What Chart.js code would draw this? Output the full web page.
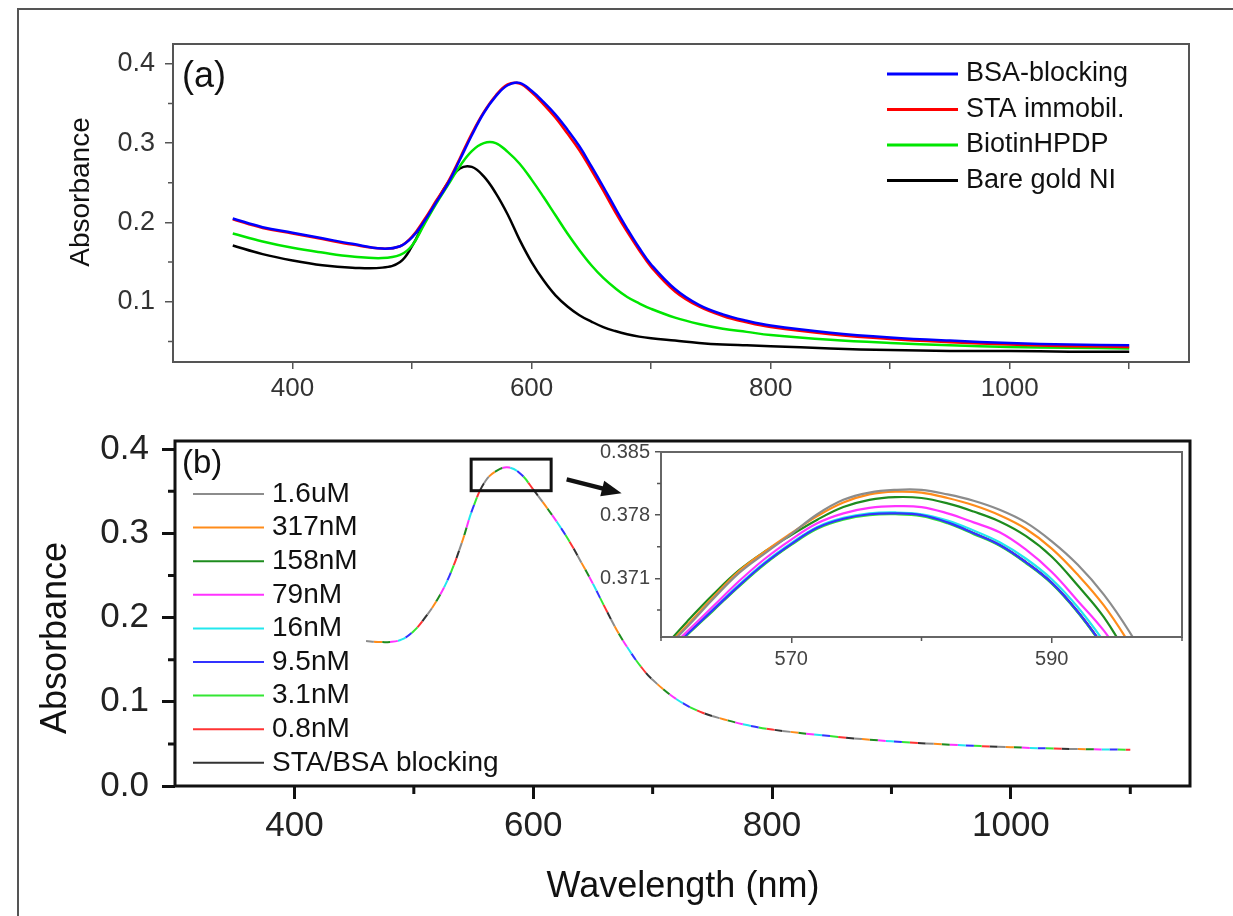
<!DOCTYPE html>
<html>
<head>
<meta charset="utf-8">
<script src="https://cdn.jsdelivr.net/npm/chart.js@4.4.1/dist/chart.umd.min.js"></script>
<style>
body { margin: 0; background: #fff; }
#page { position: relative; width: 1233px; height: 916px; overflow: hidden; }
#frame { position: absolute; left: 17px; top: 8px; width: 1300px; height: 1000px; border-left: 2px solid #555; border-top: 2px solid #555; }
canvas { position: absolute; }
</style>
</head>
<body>
<div id="page">
<div id="frame"></div>
<canvas id="chartA" width="1233" height="420" style="left:0;top:0"></canvas>
<canvas id="chartB" width="1233" height="496" style="left:0;top:420px"></canvas>
<canvas id="chartInset" width="673" height="240" style="left:560px;top:440px"></canvas>
</div>
<script>
// panel (a)
var wavelengthA = [350, 375, 400, 425, 450, 475, 490, 500, 510, 520, 530, 540, 550, 560, 570, 580, 590, 600, 610, 620, 630, 640, 650, 660, 670, 680, 690, 700, 720, 740, 760, 780, 800, 850, 900, 950, 1000, 1050, 1100];
var bsaBlocking = [0.205, 0.194, 0.187, 0.180, 0.173, 0.167, 0.170, 0.181, 0.201, 0.225, 0.249, 0.279, 0.310, 0.338, 0.359, 0.373, 0.376, 0.366, 0.352, 0.336, 0.317, 0.296, 0.271, 0.245, 0.218, 0.192, 0.168, 0.147, 0.116, 0.096, 0.084, 0.076, 0.070, 0.061, 0.055, 0.051, 0.048, 0.046, 0.045];
var staImmobil = [0.204, 0.193, 0.186, 0.179, 0.172, 0.167, 0.170, 0.182, 0.203, 0.227, 0.251, 0.281, 0.312, 0.339, 0.360, 0.374, 0.375, 0.364, 0.349, 0.332, 0.312, 0.291, 0.266, 0.240, 0.213, 0.188, 0.165, 0.144, 0.113, 0.094, 0.082, 0.074, 0.068, 0.059, 0.053, 0.049, 0.046, 0.044, 0.043];
var biotinHPDP = [0.186, 0.176, 0.168, 0.162, 0.157, 0.155, 0.159, 0.171, 0.197, 0.223, 0.247, 0.271, 0.290, 0.300, 0.300, 0.289, 0.274, 0.254, 0.232, 0.209, 0.186, 0.165, 0.146, 0.130, 0.117, 0.106, 0.098, 0.091, 0.080, 0.072, 0.066, 0.062, 0.058, 0.052, 0.048, 0.045, 0.043, 0.042, 0.041];
var bareGold = [0.171, 0.160, 0.152, 0.146, 0.143, 0.143, 0.150, 0.170, 0.199, 0.225, 0.250, 0.268, 0.270, 0.258, 0.237, 0.210, 0.178, 0.150, 0.127, 0.108, 0.094, 0.083, 0.075, 0.068, 0.063, 0.059, 0.056, 0.054, 0.051, 0.048, 0.046, 0.045, 0.044, 0.041, 0.039, 0.038, 0.038, 0.037, 0.037];
var labelsA = ['BSA-blocking', 'STA immobil.', 'BiotinHPDP', 'Bare gold NI'];
var colorsA = ['#0000ff', '#ff0000', '#00e600', '#000000'];
var ticksAX = [400, 500, 600, 700, 800, 900, 1000, 1100];
var ticksAY = [0.1, 0.2, 0.3, 0.4];
var minorAY = [0.05, 0.15, 0.25, 0.35];

// panel (b), all concentrations overlap at this scale
var wavelengthB = [460, 470, 480, 490, 500, 510, 520, 530, 540, 550, 560, 570, 580, 590, 600, 610, 620, 630, 640, 650, 660, 670, 680, 690, 700, 720, 740, 760, 780, 800, 850, 900, 950, 1000, 1050, 1100];
var absorbanceB = [0.172, 0.171, 0.171, 0.174, 0.184, 0.201, 0.222, 0.250, 0.288, 0.332, 0.362, 0.3747, 0.3780, 0.3697, 0.352, 0.333, 0.313, 0.291, 0.266, 0.240, 0.212, 0.185, 0.162, 0.142, 0.126, 0.103, 0.088, 0.079, 0.072, 0.067, 0.059, 0.053, 0.049, 0.046, 0.044, 0.043];
var labelsB = ['1.6uM', '317nM', '158nM', '79nM', '16nM', '9.5nM', '3.1nM', '0.8nM', 'STA/BSA blocking'];
var colorsB = ['#8c8c8c', '#ff8c1a', '#1e8c1e', '#ff33ff', '#22e8ee', '#3333ff', '#33e633', '#ff3333', '#333333'];
var ticksBX = [400, 600, 800, 1000];
var minorBX = [500, 700, 900, 1100];
var ticksBY = [0.0, 0.1, 0.2, 0.3, 0.4];
var minorBY = [0.05, 0.15, 0.25, 0.35];

// inset, zoom on the peak
var wavelengthInset = [560, 562, 564, 566, 568, 570, 572, 574, 576, 578, 580, 582, 584, 586, 588, 590, 592, 594, 596, 598];
var inset1p6uM = [0.3627, 0.3656, 0.3687, 0.3716, 0.3738, 0.3759, 0.3781, 0.3797, 0.3805, 0.3808, 0.3808, 0.3803, 0.3796, 0.3786, 0.3772, 0.3751, 0.3725, 0.3692, 0.3650, 0.3600];
var inset317nM = [0.3628, 0.3658, 0.3689, 0.3718, 0.3740, 0.3760, 0.3779, 0.3794, 0.3803, 0.3806, 0.3805, 0.3799, 0.3791, 0.3780, 0.3765, 0.3743, 0.3714, 0.3680, 0.3637, 0.3590];
var inset158nM = [0.3630, 0.3662, 0.3692, 0.3719, 0.3740, 0.3758, 0.3775, 0.3789, 0.3797, 0.3800, 0.3799, 0.3793, 0.3784, 0.3773, 0.3757, 0.3734, 0.3702, 0.3667, 0.3620, 0.3570];
var inset79nM = [0.3623, 0.3651, 0.3679, 0.3707, 0.3732, 0.3753, 0.3771, 0.3782, 0.3788, 0.3790, 0.3789, 0.3782, 0.3772, 0.3761, 0.3742, 0.3717, 0.3685, 0.3652, 0.3610, 0.3565];
var inset16nM = [0.3621, 0.3649, 0.3676, 0.3703, 0.3728, 0.3749, 0.3767, 0.3777, 0.3782, 0.3783, 0.3781, 0.3774, 0.3763, 0.3750, 0.3732, 0.3709, 0.3678, 0.3640, 0.3596, 0.3550];
var inset9p5nM = [0.3620, 0.3648, 0.3675, 0.3702, 0.3727, 0.3748, 0.3766, 0.3776, 0.3781, 0.3782, 0.3780, 0.3772, 0.3760, 0.3747, 0.3728, 0.3705, 0.3673, 0.3634, 0.3590, 0.3545];
var inset3p1nM = [0.3619, 0.3647, 0.3674, 0.3701, 0.3726, 0.3747, 0.3765, 0.3775, 0.3780, 0.3781, 0.3779, 0.3771, 0.3759, 0.3746, 0.3727, 0.3704, 0.3672, 0.3633, 0.3589, 0.3544];
var inset0p8nM = [0.3620, 0.3648, 0.3675, 0.3702, 0.3727, 0.3748, 0.3766, 0.3776, 0.3781, 0.3782, 0.3780, 0.3772, 0.3760, 0.3747, 0.3728, 0.3705, 0.3673, 0.3634, 0.3590, 0.3545];
var insetStaBsa = [0.3620, 0.3648, 0.3675, 0.3702, 0.3727, 0.3748, 0.3766, 0.3776, 0.3781, 0.3782, 0.3780, 0.3772, 0.3760, 0.3747, 0.3728, 0.3705, 0.3673, 0.3634, 0.3590, 0.3545];
var insetSeries = [inset1p6uM, inset317nM, inset158nM, inset79nM, inset16nM, inset9p5nM, inset3p1nM, inset0p8nM, insetStaBsa];
var insetOrder = [0, 0, 0, 0, 2, 1, 3, 4, 5];
var ticksInX = [570, 590];
var minorInX = [560, 580, 600];
var ticksInY = [0.371, 0.378, 0.385];
var minorInY = [0.3675, 0.3745, 0.3815];

var FONT = "'Liberation Sans', Arial, sans-serif";
Chart.defaults.font.family = FONT;
Chart.defaults.color = '#222';

function pts(xs, ys) {
	return xs.map(function (x, i) { return { x: x, y: ys[i] }; });
}

function setTicks(values) {
	return function (axis) {
		axis.ticks = values.map(function (v) { return { value: v }; });
	};
}

function fixSize(w, h) {
	return function (scale) {
		if (w !== null) scale.width = w;
		if (h !== null) scale.height = h;
		scale.paddingTop = 0;
		scale.paddingBottom = 0;
		scale.paddingLeft = 0;
		scale.paddingRight = 0;
	};
}

function minorTicks(chart, id, values, len, lw, color) {
	var s = chart.scales[id], a = chart.chartArea, ctx = chart.ctx;
	ctx.save();
	ctx.strokeStyle = color;
	ctx.lineWidth = lw;
	ctx.beginPath();
	values.forEach(function (v) {
		var p = s.getPixelForValue(v);
		if (s.isHorizontal()) {
			ctx.moveTo(p, a.bottom);
			ctx.lineTo(p, a.bottom + len);
		} else {
			ctx.moveTo(a.left - len, p);
			ctx.lineTo(a.left, p);
		}
	});
	ctx.stroke();
	ctx.restore();
}

function box(chart, color, lw) {
	var a = chart.chartArea, ctx = chart.ctx;
	ctx.save();
	ctx.strokeStyle = color;
	ctx.lineWidth = lw;
	ctx.strokeRect(a.left, a.top, a.right - a.left, a.bottom - a.top);
	ctx.restore();
}

function legend(chart, labels, colors, x0, y0, dy, lineLen, gap, size, lw) {
	var ctx = chart.ctx;
	ctx.save();
	ctx.font = size + 'px ' + FONT;
	ctx.textBaseline = 'middle';
	ctx.fillStyle = '#111';
	labels.forEach(function (lab, i) {
		var y = y0 + i * dy;
		ctx.strokeStyle = colors[i];
		ctx.lineWidth = lw;
		ctx.beginPath();
		ctx.moveTo(x0, y);
		ctx.lineTo(x0 + lineLen, y);
		ctx.stroke();
		ctx.fillText(lab, x0 + lineLen + gap, y);
	});
	ctx.restore();
}

function text(ctx, str, x, y, size, align, rot) {
	ctx.save();
	ctx.translate(x, y);
	if (rot) ctx.rotate(rot);
	ctx.font = size + 'px ' + FONT;
	ctx.textAlign = align;
	ctx.textBaseline = 'middle';
	ctx.fillStyle = '#111';
	ctx.fillText(str, 0, 0);
	ctx.restore();
}

function axisOpts(min, max, ticks, fit, tickLen, tickW, tickColor, pad, size, color, fmt) {
	return {
		type: 'linear', min: min, max: max,
		afterBuildTicks: setTicks(ticks),
		afterFit: fit,
		border: { display: false },
		grid: { drawOnChartArea: false, drawTicks: true, tickLength: tickLen, lineWidth: tickW, color: tickColor },
		ticks: { autoSkip: false, maxRotation: 0, padding: pad, color: color, font: { size: size }, callback: fmt }
	};
}

var baseOpts = function (padding, scales) {
	return {
		responsive: false, animation: false, devicePixelRatio: 1, events: [],
		layout: { padding: padding },
		elements: { point: { radius: 0 }, line: { tension: 0.4, fill: false } },
		plugins: { legend: { display: false }, tooltip: { enabled: false } },
		scales: scales
	};
};

// (a)
new Chart(document.getElementById('chartA'), {
	type: 'line',
	data: {
		datasets: [bsaBlocking, staImmobil, biotinHPDP, bareGold].map(function (ys, i) {
			return { label: labelsA[i], data: pts(wavelengthA, ys), borderColor: colorsA[i], borderWidth: 2.5 };
		})
	},
	options: baseOpts({ left: 0, top: 44, right: 44, bottom: 0 }, {
		x: axisOpts(300, 1150, ticksAX, fixSize(null, 58), 7, 1.5, '#555', 4, 26, '#333',
			function (v) { return v % 200 === 0 ? String(v) : ''; }),
		y: axisOpts(0.024, 0.425, ticksAY, fixSize(173, null), 8, 1.5, '#555', 10, 27, '#333',
			function (v) { return v.toFixed(1); })
	}),
	plugins: [{
		id: 'decorA',
		afterDraw: function (chart) {
			box(chart, '#555', 2);
			minorTicks(chart, 'y', minorAY, 5, 1.5, '#555');
			text(chart.ctx, '(a)', 182, 77, 36, 'left');
			text(chart.ctx, 'Absorbance', 81, 192, 28, 'center', -Math.PI / 2);
			legend(chart, labelsA, colorsA, 887, 74, 35.5, 71, 8, 27, 3);
		}
	}]
});

// (b)
new Chart(document.getElementById('chartB'), {
	type: 'line',
	data: {
		datasets: labelsB.map(function (lab, i) {
			return {
				label: lab, data: pts(wavelengthB, absorbanceB), borderColor: colorsB[i], borderWidth: 2,
				borderDash: [8, 64], borderDashOffset: (72 - 8 * i) % 72
			};
		})
	},
	options: baseOpts({ left: 0, top: 21, right: 43, bottom: 0 }, {
		x: axisOpts(300, 1150, ticksBX, fixSize(null, 130), 13, 3, '#111', 6, 35, '#222',
			function (v) { return String(v); }),
		y: axisOpts(0, 0.4095, ticksBY, fixSize(175, null), 13, 3, '#111', 13, 35, '#222',
			function (v) { return v.toFixed(1); })
	}),
	plugins: [{
		id: 'decorB',
		afterDraw: function (chart) {
			var ctx = chart.ctx, sx = chart.scales.x, sy = chart.scales.y;
			box(chart, '#111', 3);
			minorTicks(chart, 'x', minorBX, 8, 3, '#111');
			minorTicks(chart, 'y', minorBY, 7, 3, '#111');
			text(ctx, '(b)', 182, 44, 33, 'left');
			text(ctx, 'Absorbance', 56, 218, 36, 'center', -Math.PI / 2);
			text(ctx, 'Wavelength (nm)', 683, 467, 36, 'center');
			legend(chart, labelsB, colorsB, 193, 74, 33.6, 71, 8, 28, 2);

			// zoom box on the peak
			var x1 = sx.getPixelForValue(548), x2 = sx.getPixelForValue(615);
			var y1 = sy.getPixelForValue(0.388), y2 = sy.getPixelForValue(0.3505);
			ctx.save();
			ctx.strokeStyle = '#111';
			ctx.lineWidth = 3;
			ctx.strokeRect(x1, y1, x2 - x1, y2 - y1);

			// arrow to the inset
			var ax = sx.getPixelForValue(628), ay = sy.getPixelForValue(0.364);
			var tx = sx.getPixelForValue(674), ty = sy.getPixelForValue(0.3474);
			var dx = tx - ax, dy = ty - ay, l = Math.sqrt(dx * dx + dy * dy);
			var ux = dx / l, uy = dy / l, bx = tx - 20 * ux, by = ty - 20 * uy;
			ctx.fillStyle = '#111';
			ctx.lineWidth = 4.5;
			ctx.beginPath();
			ctx.moveTo(ax, ay);
			ctx.lineTo(bx + 2 * ux, by + 2 * uy);
			ctx.stroke();
			ctx.beginPath();
			ctx.moveTo(tx, ty);
			ctx.lineTo(bx - 8 * uy, by + 8 * ux);
			ctx.lineTo(bx + 8 * uy, by - 8 * ux);
			ctx.closePath();
			ctx.fill();
			ctx.restore();
		}
	}]
});

// inset
new Chart(document.getElementById('chartInset'), {
	type: 'line',
	data: {
		datasets: insetSeries.map(function (ys, i) {
			return { label: labelsB[i], data: pts(wavelengthInset, ys), borderColor: colorsB[i], borderWidth: 2.2, order: insetOrder[i] };
		})
	},
	options: baseOpts({ left: 0, top: 12, right: 51, bottom: 0 }, {
		x: axisOpts(560, 600, ticksInX, fixSize(null, 43), 6, 1.5, '#555', 4, 20, '#444',
			function (v) { return String(v); }),
		y: axisOpts(0.3645, 0.385, ticksInY, fixSize(101, null), 6, 1.5, '#555', 5, 20, '#444',
			function (v) { return v.toFixed(3); })
	}),
	plugins: [{
		id: 'decorInset',
		afterDraw: function (chart) {
			box(chart, '#666', 2);
			minorTicks(chart, 'x', minorInX, 4, 1.5, '#555');
			minorTicks(chart, 'y', minorInY, 4, 1.5, '#555');
		}
	}]
});
</script>
</body>
</html>
